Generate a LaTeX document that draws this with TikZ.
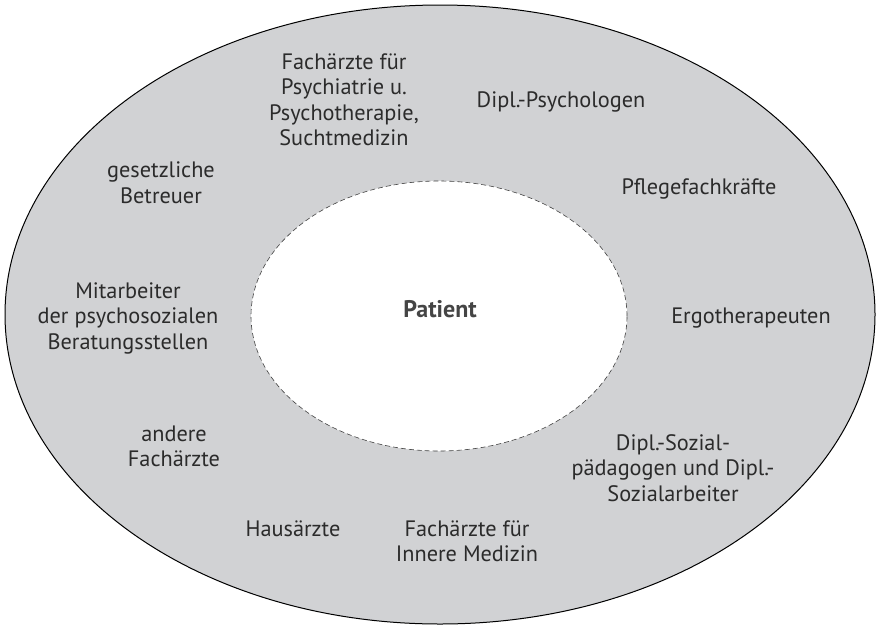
\documentclass[tikz,border=0pt]{standalone}
\usepackage{fontspec}
\setmainfont{PT Sans}
\usetikzlibrary{shapes.geometric}
\definecolor{ringgray}{HTML}{D1D2D4}
\definecolor{txtgray}{HTML}{2B2B2B}
\definecolor{patgray}{HTML}{454545}
\tikzset{
  lbl/.style={align=center, text=txtgray, font=\fontsize{22.3}{25.5}\selectfont, inner sep=0pt},
}
\begin{document}
\begin{tikzpicture}[x=1pt,y=-1pt]
\useasboundingbox (0,0) rectangle (877,627);
\node[ellipse, draw=black, line width=1pt, fill=ringgray, minimum width=870, minimum height=619, inner sep=0pt] (outer) at (440,314.5) {};
\node[ellipse, draw=black!75, dashed, dash pattern=on 5pt off 3pt, line width=0.6pt, fill=white, minimum width=376, minimum height=270, inner sep=0pt] (inner) at (439,316) {};
\node[lbl, font=\fontsize{24}{28}\selectfont\bfseries, text=patgray] (patient) at (440,309) {Patient};
\node[lbl] (psych) at (344,100) {Fachärzte für\\Psychiatrie u.\\Psychotherapie,\\Suchtmedizin};
\node[lbl] (dipsy) at (561,102) {Dipl.-Psychologen};
\node[lbl] (betr) at (161,182.5) {gesetzliche\\Betreuer};
\node[lbl] (pflege) at (699,189) {Pflegefachkräfte};
\node[lbl] (mitarb) at (128,318) {Mitarbeiter\\der psychosozialen\\Beratungsstellen};
\node[lbl] (ergo) at (751,318) {Ergotherapeuten};
\node[lbl] (andere) at (174,446.5) {andere\\Fachärzte};
\node[lbl] (sozial) at (673,468) {Dipl.-Sozial-\\pädagogen und Dipl.-\\Sozialarbeiter};
\node[lbl] (haus) at (293,529) {Hausärzte};
\node[lbl] (innere) at (467,541.5) {Fachärzte für\\Innere Medizin};
\end{tikzpicture}
\end{document}
